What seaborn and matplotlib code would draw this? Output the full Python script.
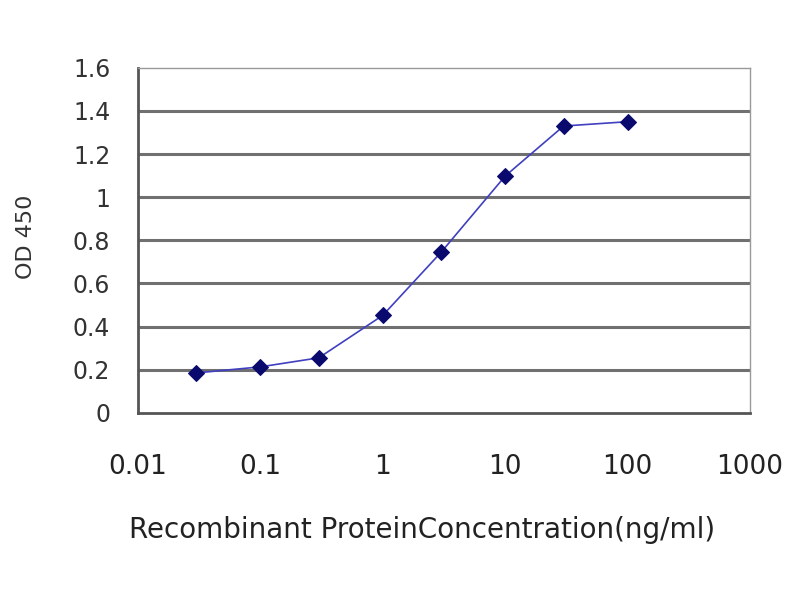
import numpy as np
import pandas as pd
import seaborn as sns
from matplotlib import pyplot as plt
from matplotlib.ticker import FixedLocator, NullLocator

# Werte
conc = [0.03, 0.1, 0.3, 1, 3, 10, 30, 100]
od450 = [0.185, 0.213, 0.255, 0.452, 0.745, 1.098, 1.33, 1.35]
xticks = [0.01, 0.1, 1, 10, 100, 1000]
xticklabels = ["0.01", "0.1", "1", "10", "100", "1000"]
yticks = [0, 0.2, 0.4, 0.6, 0.8, 1, 1.2, 1.4, 1.6]
yticklabels = ["0", "0.2", "0.4", "0.6", "0.8", "1", "1.2", "1.4", "1.6"]

df = pd.DataFrame({"conc": conc, "od": od450})

sns.set_style("white")
plt.rcParams["font.family"] = ["DejaVu Sans"]

fig = plt.figure(figsize=(8, 6), dpi=100)
ax = fig.add_axes([0.1725, 0.312, 0.765, 0.575])

sns.lineplot(data=df, x="conc", y="od", ax=ax, color="#4040c0", linewidth=1.2,
             marker="D", markersize=8, markerfacecolor="#0a0a6e",
             markeredgecolor="#0a0a6e", zorder=3)

ax.set_xscale("log")
ax.set_xlim(0.01, 1000)
ax.set_ylim(0, 1.6)
ax.xaxis.set_major_locator(FixedLocator(xticks))
ax.xaxis.set_minor_locator(NullLocator())
ax.set_xticklabels(xticklabels, fontsize=19, color="#222222")
ax.set_yticks(yticks)
ax.set_yticklabels(yticklabels, fontsize=17, color="#333333")

# Gitterlinien
for yv in yticks[1:-1]:
    ax.axhline(yv, color="#707070", linewidth=2.2, zorder=1)

for side in ["top", "right"]:
    ax.spines[side].set_color("#999999")
    ax.spines[side].set_linewidth(1)
for side in ["left", "bottom"]:
    ax.spines[side].set_color("#555555")
    ax.spines[side].set_linewidth(2)

ax.tick_params(axis="x", direction="in", length=8, width=1.2, color="#555555", pad=30)
ax.tick_params(axis="y", length=0, pad=20)

ax.set_xlabel("Recombinant ProteinConcentration(ng/ml)", fontsize=20, color="#222222")
ax.xaxis.set_label_coords(0.464, -0.30)
ax.set_ylabel("OD 450", fontsize=16, color="#333333")
ax.yaxis.set_label_coords(-0.167, 0.51)

plt.savefig("out.png", dpi=100)
